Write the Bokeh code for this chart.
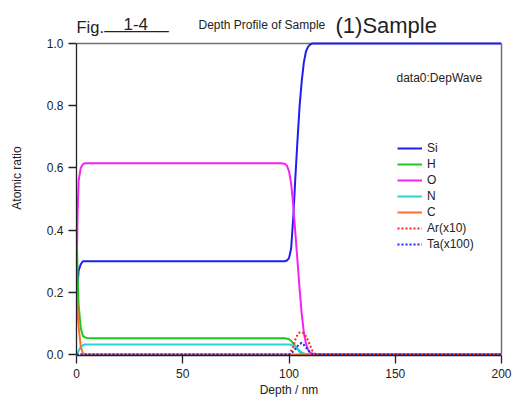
from bokeh.plotting import figure
from bokeh.models import Range1d, Label, FixedTicker, PrintfTickFormatter, LinearAxis, Span
from bokeh.embed import file_html
from bokeh.resources import INLINE

FONT = "Liberation Sans"

# ---- data ----
depth = [0, 0.5, 1, 2, 3, 4, 5, 10, 50, 96, 98, 99, 100, 101, 102, 103, 104, 105,
         106, 107, 108, 109, 110, 111, 112, 114, 120, 150, 200]
si = [0.11, 0.22, 0.27, 0.29, 0.30, 0.30, 0.30, 0.30, 0.30, 0.30, 0.30, 0.302, 0.31, 0.34, 0.44,
      0.57, 0.69, 0.80, 0.88, 0.94, 0.975, 0.99, 0.997, 1.0, 1.0, 1.0, 1.0, 1.0, 1.0]
h = [0.43, 0.26, 0.16, 0.085, 0.06, 0.055, 0.053, 0.052, 0.052, 0.052, 0.052, 0.051, 0.049, 0.044,
     0.036, 0.026, 0.017, 0.009, 0.004, 0.001, 0.0, 0.0, 0.0, 0.0, 0.0, 0.0, 0.0, 0.0, 0.0]
o = [0.23, 0.45, 0.56, 0.60, 0.612, 0.615, 0.615, 0.615, 0.615, 0.615, 0.613, 0.607, 0.59, 0.55,
     0.48, 0.39, 0.30, 0.21, 0.13, 0.07, 0.035, 0.015, 0.005, 0.001, 0.0, 0.0, 0.0, 0.0, 0.0]
n = [0.0, 0.005, 0.012, 0.024, 0.03, 0.032, 0.032, 0.032, 0.032, 0.032, 0.032, 0.032, 0.032, 0.031,
     0.029, 0.025, 0.019, 0.012, 0.007, 0.003, 0.001, 0.0, 0.0, 0.0, 0.0, 0.0, 0.0, 0.0, 0.0]
c = [0.21, 0.15, 0.09, 0.025, 0.004, 0.0, 0.0, 0.0, 0.0, 0.0, 0.0, 0.0, 0.0, 0.0, 0.0, 0.0, 0.0,
     0.0, 0.0, 0.0, 0.0, 0.0, 0.0, 0.0, 0.0, 0.0, 0.0, 0.0, 0.0]
ar_x10 = [0.0, 0.0, 0.0, 0.0, 0.0, 0.0, 0.0, 0.0, 0.0, 0.0, 0.0, 0.0, 0.0, 0.012, 0.025, 0.048,
          0.064, 0.071, 0.072, 0.068, 0.058, 0.045, 0.028, 0.012, 0.003, 0.0, 0.0, 0.0, 0.0]
ta_x100 = [0.0, 0.0, 0.0, 0.0, 0.0, 0.0, 0.0, 0.0, 0.0, 0.0, 0.0, 0.0, 0.0, 0.004, 0.01, 0.018,
           0.027, 0.034, 0.037, 0.031, 0.022, 0.014, 0.007, 0.002, 0.0, 0.0, 0.0, 0.0, 0.0]

x_ticks = [0, 50, 100, 150, 200]
y_ticks = [0.0, 0.2, 0.4, 0.6, 0.8, 1.0]

series = [
    ("Si", si, "#1e1ef0", "solid"),
    ("H", h, "#22c422", "solid"),
    ("O", o, "#f522f5", "solid"),
    ("N", n, "#2ad4d4", "solid"),
    ("C", c, "#f7702e", "solid"),
    ("Ar(x10)", ar_x10, "#ff2424", "2 2"),
    ("Ta(x100)", ta_x100, "#2424ff", "2 2"),
]

# frame runs from the page top (title area) down to the y=0 line
p = figure(width=512, height=399, output_backend="svg", toolbar_location=None,
           x_range=Range1d(0, 200), y_range=Range1d(-0.00322, 1.13826),
           min_border_left=76, min_border_right=11, min_border_top=0, min_border_bottom=44)

p.add_layout(Span(location=1.0, dimension="width", line_color="#707070", line_width=1.5,
                  level="underlay"))

for name, ys, col, dash in series:
    p.line(depth, ys, line_color=col, line_width=2, line_dash=dash, legend_label=name)

p.xgrid.visible = False
p.ygrid.visible = False
p.outline_line_color = None
p.background_fill_color = "white"
p.border_fill_color = "white"

for ax in (p.xaxis[0], p.yaxis[0]):
    ax.axis_line_color = "#222222"
    ax.axis_line_width = 1.3
    ax.major_tick_line_color = "#222222"
    ax.major_tick_line_width = 1.3
    ax.major_tick_out = 8
    ax.major_tick_in = 0
    ax.minor_tick_line_color = None
    ax.major_label_text_font = FONT
    ax.major_label_text_font_size = "12px"
    ax.major_label_text_color = "#222222"
    ax.axis_label_text_font = FONT
    ax.axis_label_text_font_size = "12px"
    ax.axis_label_text_font_style = "normal"
    ax.axis_label_text_color = "#222222"

p.xaxis.ticker = FixedTicker(ticks=x_ticks)
p.yaxis.ticker = FixedTicker(ticks=y_ticks)
p.yaxis.bounds = (0, 1)
p.yaxis.formatter = PrintfTickFormatter(format="%.1f")
p.xaxis.axis_label = "Depth / nm"
p.yaxis.axis_label = "Atomic ratio"
p.xaxis.major_label_standoff = 5
p.xaxis.axis_label_standoff = 2
p.yaxis.major_label_standoff = 5
p.yaxis.axis_label_standoff = 20

right = LinearAxis(bounds=(0, 1), ticker=FixedTicker(ticks=[]), axis_line_color="#707070",
                   axis_line_width=1.5, major_tick_line_color=None, minor_tick_line_color=None,
                   major_label_text_font_size="0px")
p.add_layout(right, "right")

leg = p.legend[0]
leg.location = (321, 103)
leg.background_fill_alpha = 0
leg.border_line_alpha = 0
leg.label_text_font = FONT
leg.label_text_font_size = "12px"
leg.label_text_color = "#222222"
leg.glyph_width = 25
leg.glyph_height = 16
leg.label_height = 16
leg.spacing = 0
leg.padding = 0
leg.margin = 0
leg.label_standoff = 5

def add_text(px, py, txt, size, color="#222222"):
    # px, py: page pixel position of the text's left baseline
    p.add_layout(Label(x=px - 76, y=355 - py, text=txt, text_font=FONT, text_font_size=size,
                       x_units="screen", y_units="screen",
                       text_color=color, text_baseline="alphabetic", text_align="left"))

add_text(76, 26, "Fig.", "16.5px")
add_text(104, 22.5, "_______", "16.5px")
add_text(123, 23.5, "1-4", "17px")
add_text(198, 24.5, "Depth Profile of Sample", "12px")
add_text(335, 25, "(1)Sample", "22px")
add_text(396, 77, "data0:DepWave", "12px")

open("out.html", "w").write(file_html(p, INLINE))
